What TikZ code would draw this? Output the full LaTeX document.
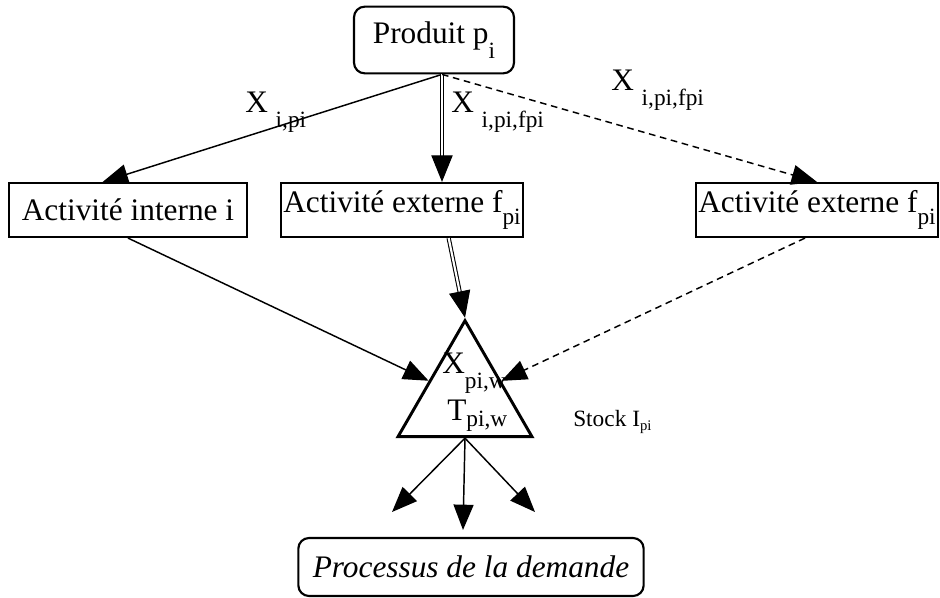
\documentclass[tikz,border=0pt]{standalone}
\usepackage{fontspec}
\setmainfont{Liberation Serif}
\usepackage{graphicx}
\usetikzlibrary{arrows.meta,positioning,shapes.geometric,calc}
\newcommand{\lowsub}[2][0.5em]{\raisebox{-#1}{\fontsize{17.5}{17.5}\selectfont #2}}
\tikzset{
  box/.style={draw, line width=1.6pt, minimum height=40.5pt, inner sep=2pt, font=\fontsize{23.5}{27}\selectfont},
  rbox/.style={box, rounded corners=8pt},
  flow/.style={line width=1.1pt, -{Triangle[length=19pt,width=15pt]}},
  dflow/.style={flow, dash pattern=on 5pt off 3.5pt},
  dblflow/.style={double, double distance=1.6pt, line width=0.8pt, -{Triangle[length=20pt,width=16pt]}},
  lbl/.style={font=\fontsize{23.5}{27}\selectfont, inner sep=0pt}
}

\begin{document}
\begin{tikzpicture}[x=0.75pt,y=-0.75pt]
  \useasboundingbox (0,0) rectangle (940,597);
  % boxes
  \node[rbox, minimum width=120pt, minimum height=50pt] (prod) at (434,40) {Produit p\lowsub{i}};
  \node[box, minimum width=178pt] (int) at (128,210) {Activité interne i};
  \node[box, minimum width=165pt] (mid) at (402,210) {Activité externe f\lowsub[0.4em]{pi}};
  \node[box, minimum width=181pt] (ext) at (817,210) {Activité externe f\lowsub[0.4em]{pi}};
  \node[regular polygon, regular polygon sides=3, draw, line width=2.2pt, inner sep=0pt, minimum size=116pt] (stock) at (465,398) {};
  \node[rbox, minimum width=259pt, minimum height=43.5pt, font=\fontsize{23.5}{27}\selectfont\itshape] (dem) at (471,567) {Processus de la demande};

  % texts
  \node[lbl, anchor=base west] (xa) at (245,112) {X \lowsub{i,pi}};
  \node[lbl, anchor=base west] (xb) at (451,112) {X \lowsub{i,pi,fpi}};
  \node[lbl, anchor=base west] (xc) at (611,90) {X \lowsub{i,pi,fpi}};
  \node[lbl, anchor=base west] (xpw) at (442,373) {X\lowsub{pi,w}};
  \node[lbl, anchor=base west] (tpw) at (447,420) {T\lowsub[0.2em]{pi,w}};
  \node[font=\fontsize{17.5}{17.5}\selectfont, anchor=base west, inner sep=0pt] (slbl) at (573,426) {Stock I\raisebox{-0.2em}{\fontsize{11}{11}\selectfont pi}};

  % flows
  \coordinate (src) at ([xshift=6pt]prod.south);
  \draw[flow] (src) -- ([xshift=-19pt]int.north);
  \draw[dblflow] (src) -- (src |- mid.north);
  \draw[dflow] (src) -- (ext.north);
  \draw[flow] (int.south) -- (stock);
  \draw[dblflow] ([xshift=35pt]mid.south) -- (stock.corner 1);
  \draw[dflow] ([xshift=-9pt]ext.south) -- (stock);

  \coordinate (dl) at (392,512);
  \coordinate (dm) at (463,530);
  \coordinate (dr) at (535,512);
  \foreach \t in {dl,dm,dr}
    \draw[flow] (stock.side 2) -- (\t);
\end{tikzpicture}
\end{document}
